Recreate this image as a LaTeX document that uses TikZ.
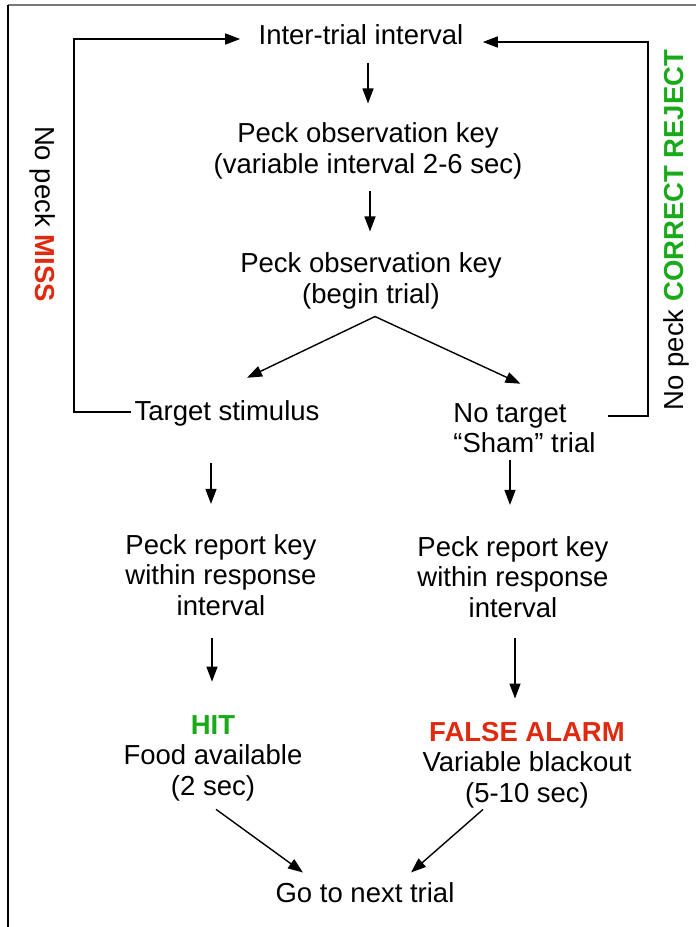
\documentclass[tikz,border=0pt]{standalone}
\usepackage{fontspec}
\setmainfont{Liberation Sans}
\usetikzlibrary{arrows.meta,calc}
\definecolor{hitgreen}{RGB}{25,170,25}
\definecolor{missred}{RGB}{224,42,16}
\definecolor{framegray}{RGB}{120,120,120}
\begin{document}
\begin{tikzpicture}[x=0.5pt,y=-0.5pt,
  lbl/.style={inner sep=0pt, align=center, font=\fontsize{13.75pt}{15.3pt}\selectfont},
  conn/.style={line width=0.7pt, draw=black},
  arr/.style={conn, -{Triangle[length=7.5pt,width=5.5pt]}}]
\useasboundingbox (0,0) rectangle (696,927);
% frame
\draw[framegray, line width=0.8pt] (8,5) -- (696,5);
\draw[black, line width=0.8pt] (8,5) -- (8,927);
% nodes
\node[lbl] (iti) at (361,35) {Inter-trial interval};
\node[lbl] (pok1) at (368,151) {Peck observation key\\(variable interval 2-6 sec)};
\node[lbl] (pok2) at (371,281) {Peck observation key\\(begin trial)};
\node[lbl] (tgt) at (227,413) {Target stimulus};
\node[lbl, align=left, anchor=west] (notgt) at (453,428) {No target\\“Sham” trial};
\node[lbl] (rep1) at (221,575) {Peck report key\\within response\\interval};
\node[lbl] (rep2) at (513,577) {Peck report key\\within response\\interval};
\node[lbl] (hit) at (213,758) {\textbf{\textcolor{hitgreen}{HIT}}\\Food available\\(2 sec)};
\node[lbl] (fa) at (527,765) {\textbf{\textcolor{missred}{FALSE ALARM}}\\Variable blackout\\(5-10 sec)};
\node[lbl] (next) at (365,893) {Go to next trial};
\node[lbl, rotate=-90] (miss) at (43,214) {No peck \textbf{\textcolor{missred}{MISS}}};
\node[lbl, rotate=90] (cr) at (676,230) {No peck \textbf{\textcolor{hitgreen}{CORRECT REJECT}}};
% vertical arrows
\draw[arr, shorten <=8.5pt, shorten >=9.5pt] (pok1.north |- iti.south) -- (pok1.north);
\draw[arr, shorten <=5.5pt, shorten >=10.5pt] ($(pok2.north |- pok1.south)+(-1,0)$) -- ($(pok2.north)+(-1,0)$);
% branch
\coordinate (split) at ($(pok2.south)+(4,7)$);
\draw[arr] (split) -- ($(tgt.north)+(20,-22)$);
\draw[arr] (split) -- ($(notgt.north)+(-4,-19)$);
% loops
\draw[conn, -{Triangle[length=7.5pt,width=5.5pt]}] ($(tgt.west)+(-3,-1)$) -- ++(-57,0) |- ($(iti.west)+(-18,4)$);
\draw[conn, -{Triangle[length=7.5pt,width=5.5pt]}] ($(notgt.east)+(12,-12)$) -- ++(40,0) |- ($(iti.east)+(19,7)$);
% second-level arrows
\draw[arr, shorten <=18.5pt, shorten >=15pt] ($(rep1.north |- tgt.south)+(-10,0)$) -- ($(rep1.north)+(-10,0)$);
\draw[arr, shorten <=3.5pt, shorten >=15.5pt] ($(rep2.north |- notgt.south)+(-3,0)$) -- ($(rep2.north)+(-3,0)$);
\draw[arr, shorten <=11pt, shorten >=16.5pt] ($(rep1.south)+(-9,0)$) -- ($(rep1.south |- hit.north)+(-9,0)$);
\draw[arr, shorten <=10pt, shorten >=11.5pt] ($(rep2.south)+(2,0)$) -- ($(rep2.south |- fa.north)+(2,0)$);
% to next trial
\draw[arr] ($(hit.south)+(3,8)$) -- ($(next.north)+(-62,-10)$);
\draw[arr] ($(fa.south)+(-44,1)$) -- ($(next.north)+(46,-10)$);
\end{tikzpicture}
\end{document}
